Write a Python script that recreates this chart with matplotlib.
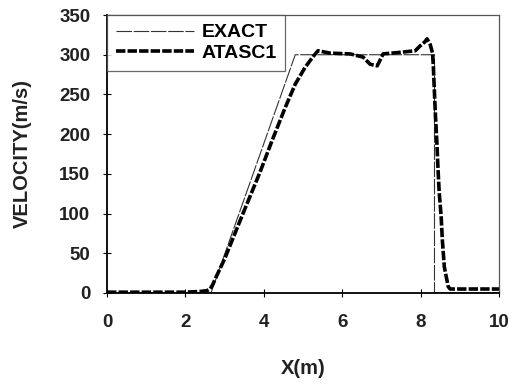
import matplotlib
matplotlib.use('Agg')
import matplotlib.pyplot as plt

plt.rcParams['font.family'] = ['Liberation Sans', 'DejaVu Sans']

# exact solution
x_exact = [0.0, 2.65, 4.8, 8.35, 8.35, 10.0]
v_exact = [0.0, 0.0, 300.0, 300.0, 0.0, 0.0]

# ATASC1 result
x_atasc = [0.0, 1.0, 2.0, 2.4, 2.55, 2.63, 2.7, 2.8, 3.0, 3.27, 3.5, 3.9, 4.21,
           4.54, 4.8, 5.05, 5.26, 5.38, 5.69, 6.2, 6.53, 6.71, 6.89, 7.04, 7.47,
           7.86, 7.98, 8.1, 8.16, 8.24, 8.3, 8.32, 8.37, 8.41, 8.44, 8.47, 8.52,
           8.55, 8.6, 8.7, 8.75, 10.0]
v_atasc = [1, 1, 1, 2, 3, 5, 11, 22, 43, 76, 104, 152, 192,
           233, 263, 284, 298, 305, 302, 301, 297, 288, 286, 301, 303,
           305, 311, 316, 320, 313, 302, 286, 228, 190, 156, 127, 96,
           67, 33, 8, 5, 5]

fig = plt.figure(figsize=(5.12, 3.85), dpi=100)
ax = fig.add_axes([0.209, 0.239, 0.766, 0.722])

ax.plot(x_exact, v_exact, color='#333333', linewidth=0.8, dashes=(14, 1.5), label='EXACT')
ax.plot(x_atasc, v_atasc, color='black', linewidth=2.6, dashes=(2.6, 0.6), label='ATASC1')

ax.set_xlim(0, 10)
ax.set_ylim(0, 350)
ax.set_xticks(range(0, 11, 2))
ax.set_yticks(range(0, 351, 50))
ax.tick_params(direction='inout', length=6, width=0.8, labelsize=13.5)
ax.tick_params(axis='x', pad=12)
ax.tick_params(axis='y', pad=9)
for lab in ax.get_xticklabels() + ax.get_yticklabels():
    lab.set_fontweight('bold')
    lab.set_color('#222222')

for s in ['left', 'bottom']:
    ax.spines[s].set_linewidth(1.3)
for s in ['top', 'right']:
    ax.spines[s].set_linewidth(0.9)
    ax.spines[s].set_color('#555555')

ax.set_xlabel('X(m)', fontsize=14.5, labelpad=20, color='#222222', fontweight='bold')
ax.set_ylabel('VELOCITY(m/s)', fontsize=14.5, labelpad=20, color='#222222', fontweight='bold')

leg = ax.legend(loc='upper left', borderaxespad=0, fontsize=14, frameon=True,
                fancybox=False, handlelength=4.0, handletextpad=0.4,
                borderpad=0.45, labelspacing=0.15)
leg.get_frame().set_edgecolor('#444444')
leg.get_frame().set_linewidth(0.9)
for t in leg.get_texts():
    t.set_fontweight('bold')

fig.savefig('out.png', dpi=100)
